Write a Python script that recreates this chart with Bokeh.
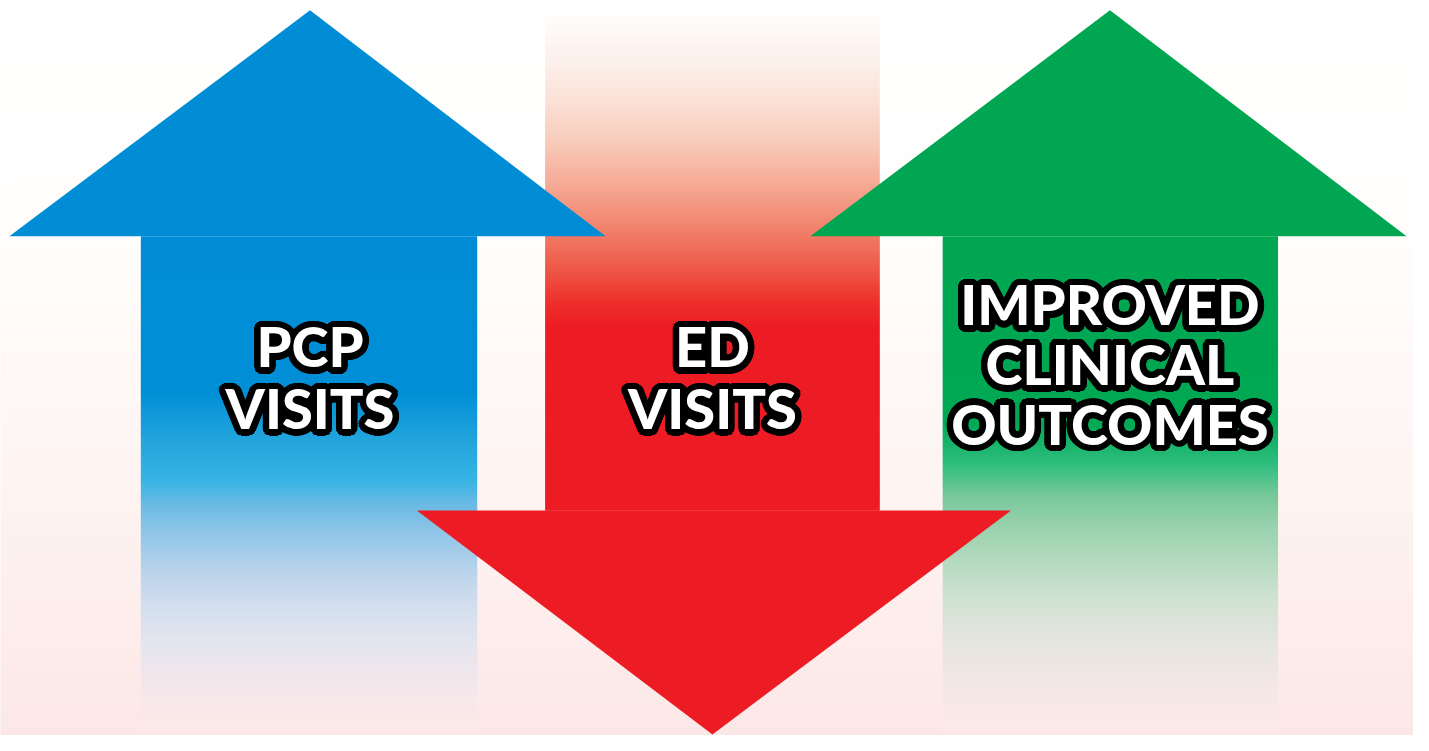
import numpy as np
from bokeh.plotting import figure
from bokeh.models import Range1d
from bokeh.core.properties import value
from bokeh.embed import file_html
from bokeh.resources import INLINE

# ---- content -------------------------------------------------------------
label_lines = ["PCP", "VISITS", "ED", "VISITS", "IMPROVED", "CLINICAL", "OUTCOMES"]
label_x = [313, 313, 720, 720, 1122, 1122, 1122]
label_y = [353, 416, 353, 416, 310, 371, 432]

# arrow geometry (reference pixel space, y grows downward)
blue_head_x = [9, 313, 612]
blue_head_y = [241, 10, 241]
blue_shaft = (142, 482, 241, 746)

green_head_x = [819, 1122, 1422]
green_head_y = [241, 10, 241]
green_shaft = (953, 1292, 241, 746)

red_shaft = (551, 889, 8, 521)
red_head_x = [421, 1022, 720]
red_head_y = [521, 521, 750]

# colour stops (y, (r, g, b))
bg_stops = [(0, (255, 255, 255)), (241, (255, 254, 253)), (450, (254, 246, 244)),
            (600, (253, 239, 237)), (751, (252, 231, 231))]
blue_stops = [(241, (0, 141, 213)), (400, (0, 143, 214)), (450, (35, 165, 220)),
              (490, (55, 180, 228)), (517, (110, 187, 228)), (550, (150, 200, 232)),
              (583, (185, 211, 235)), (617, (210, 222, 238)), (650, (225, 228, 238)),
              (683, (238, 230, 236)), (717, (248, 232, 234)), (746, (252, 232, 232))]
green_stops = [(241, (0, 166, 81)), (430, (0, 168, 84)), (473, (45, 190, 125)),
               (507, (120, 200, 155)), (540, (155, 210, 175)), (573, (180, 218, 190)),
               (607, (205, 225, 208)), (640, (222, 228, 218)), (673, (235, 230, 226)),
               (707, (245, 232, 230)), (746, (252, 232, 232))]
red_stops = [(8, (255, 255, 255)), (60, (252, 241, 236)), (100, (250, 226, 216)),
             (140, (248, 206, 190)), (180, (246, 176, 156)), (220, (243, 142, 120)),
             (250, (240, 112, 92)), (280, (238, 82, 66)), (310, (237, 46, 42)),
             (335, (237, 28, 36)), (521, (237, 28, 36))]


def strips(x0, x1, y0, y1, stops, step=2):
    ys = np.arange(y0, y1, step)
    sy = [s[0] for s in stops]
    cols = []
    for y in ys:
        c = [int(round(np.interp(y + step / 2, sy, [s[1][k] for s in stops]))) for k in range(3)]
        cols.append("#%02x%02x%02x" % tuple(c))
    top = ys
    bottom = np.minimum(ys + step + 2.5, y1)
    return dict(left=[x0] * len(ys), right=[x1] * len(ys), top=list(top),
                bottom=list(bottom), color=cols)


p = figure(width=1413, height=735, x_range=Range1d(0, 1429), y_range=Range1d(751, 0),
           output_backend="svg", toolbar_location=None, min_border=0,
           x_axis_location=None, y_axis_location=None)
p.grid.visible = False
p.outline_line_color = None
p.background_fill_color = "white"
p.border_fill_color = "white"

# background
d = strips(0, 1429, 0, 752, bg_stops)
p.quad(left="left", right="right", top="top", bottom="bottom", fill_color="color",
       line_color=None, source=d)

# shafts
for sh, st in [(blue_shaft, blue_stops), (green_shaft, green_stops), (red_shaft, red_stops)]:
    d = strips(sh[0], sh[1], sh[2], sh[3], st)
    p.quad(left="left", right="right", top="top", bottom="bottom", fill_color="color",
           line_color=None, source=d)

# heads
p.patch(blue_head_x, blue_head_y, fill_color="#008dd5", line_color=None)
p.patch(green_head_x, green_head_y, fill_color="#00a651", line_color=None)
p.patch(red_head_x, red_head_y, fill_color="#ed1c24", line_color=None)

# labels: thick black outline made from offset copies, white text on top
font = value("Lato Black, Lato")
fsize = "56px"
offsets = []
for r in (6.5, 4.5, 2.5):
    for a in np.linspace(0, 2 * np.pi, 24, endpoint=False):
        offsets.append((r * np.cos(a), r * np.sin(a)))
for dx, dy in offsets:
    p.text(x=label_x, y=label_y, text=label_lines, text_font=font,
           text_font_style="bold", text_font_size=fsize, text_color="black",
           text_align="center", text_baseline="alphabetic",
           x_offset=float(dx), y_offset=float(dy))
p.text(x=label_x, y=label_y, text=label_lines, text_font=font,
       text_font_style="bold", text_font_size=fsize, text_color="white",
       text_align="center", text_baseline="alphabetic")

open("out.html", "w").write(file_html(p, INLINE))
